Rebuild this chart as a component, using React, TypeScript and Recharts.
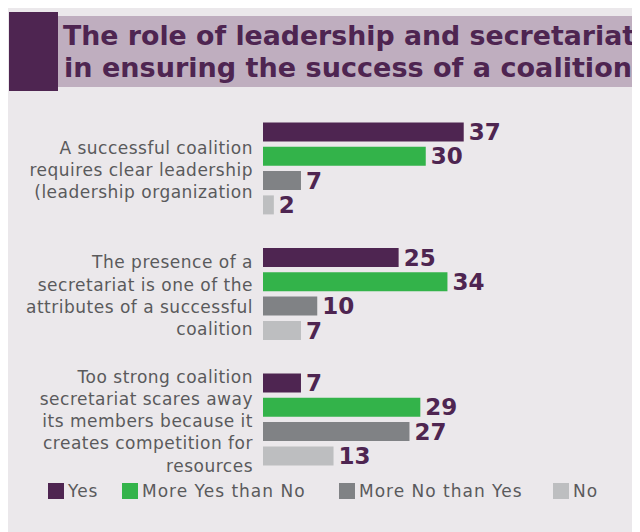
import React from 'react';
import { BarChart, Bar, XAxis, YAxis, LabelList, Legend } from 'recharts';

// Survey statements (line breaks mark where each label wraps)
const categories = [
  'A successful coalition\nrequires clear leadership\n(leadership organization',
  'The presence of a\nsecretariat is one of the\nattributes of a successful\ncoalition',
  'Too strong coalition\nsecretariat scares away\nits members because it\ncreates competition for\nresources',
];

// Answer shares per statement
const yesValues = [37, 25, 7];
const moreYesValues = [30, 34, 29];
const moreNoValues = [7, 10, 27];
const noValues = [2, 7, 13];

const seriesNames = ['Yes', 'More Yes than No', 'More No than Yes', 'No'];
const seriesKeys = ['yes', 'moreYes', 'moreNo', 'no'];

const titleLines = [
  'The role of leadership and secretariat',
  'in ensuring the success of a coalition',
];

const PURPLE = '#4e2551';
const COLORS = [PURPLE, '#33b34a', '#808285', '#bdbec0'];
const PANEL_BG = '#ebe8eb';
const BAND_BG = '#bfaebf';
const TEXT_GREY = '#5a5a5c';
const FONT = '"DejaVu Sans", sans-serif';

const data = categories.map((category, i) => ({
  category,
  yes: yesValues[i],
  moreYes: moreYesValues[i],
  moreNo: moreNoValues[i],
  no: noValues[i],
}));

const CategoryTick = (props: any) => {
  const { x, y, payload } = props;
  const lines = String(payload.value).split('\n');
  const pitch = 22.2;
  const first = y + 8 - ((lines.length - 1) / 2) * pitch;
  return (
    <text
      x={x}
      y={first}
      textAnchor="end"
      fill={TEXT_GREY}
      fontSize={17}
      fontFamily={FONT}
      letterSpacing={0.5}
    >
      {lines.map((line, i) => (
        <tspan key={i} x={x} y={first + i * pitch}>
          {line}
        </tspan>
      ))}
    </text>
  );
};

// Left edge of each legend swatch, in chart pixels
const LEGEND_LEFT = [40, 114, 331, 545];

const LegendContent = (props: any) => {
  const payload = [...(props.payload || [])].sort(
    (a: any, b: any) => seriesNames.indexOf(a.value) - seriesNames.indexOf(b.value)
  );
  return (
    <div style={{ position: 'relative', height: 16, width: 632 }}>
      {payload.map((entry: any, i: number) => (
        <div
          key={entry.value}
          style={{
            position: 'absolute',
            left: LEGEND_LEFT[i],
            top: 0,
            display: 'flex',
            alignItems: 'center',
            height: 16,
            whiteSpace: 'nowrap',
          }}
        >
          <span
            style={{
              display: 'inline-block',
              width: 16,
              height: 16,
              background: entry.color,
              marginRight: 4,
            }}
          />
          <span
            style={{
              fontFamily: FONT,
              fontSize: 17,
              lineHeight: '16px',
              color: TEXT_GREY,
              letterSpacing: 1,
            }}
          >
            {entry.value}
          </span>
        </div>
      ))}
    </div>
  );
};

export default function App() {
  return (
    <div
      style={{
        position: 'relative',
        width: 632,
        height: 526,
        marginTop: -2,
        background: PANEL_BG,
      }}
    >
      <svg
        width={632}
        height={100}
        style={{ position: 'absolute', left: 0, top: 0 }}
      >
        <rect x={1} y={6} width={49} height={79} fill={PURPLE} />
        <rect x={50} y={10} width={582} height={71} fill={BAND_BG} />
        <text
          x={55}
          y={39}
          fontSize={27}
          fontWeight="bold"
          fontFamily={FONT}
          fill={PURPLE}
          textLength={572}
          lengthAdjust="spacingAndGlyphs"
        >
          {titleLines[0]}
        </text>
        <text
          x={56}
          y={71}
          fontSize={27}
          fontWeight="bold"
          fontFamily={FONT}
          fill={PURPLE}
          textLength={568}
          lengthAdjust="spacingAndGlyphs"
        >
          {titleLines[1]}
        </text>
      </svg>
      <div style={{ position: 'absolute', left: 0, top: 0 }}>
        <BarChart
          width={632}
          height={526}
          data={data}
          layout="vertical"
          margin={{ top: 99.5, right: 160, bottom: 50, left: 0 }}
          barSize={19}
          barGap={5.3}
        >
          <XAxis type="number" domain={[0, 40]} hide />
          <YAxis
            type="category"
            dataKey="category"
            width={255}
            axisLine={false}
            tickLine={false}
            tickMargin={4}
            tick={<CategoryTick />}
            interval={0}
          />
          <Legend
            verticalAlign="middle"
            wrapperStyle={{ left: 0, top: 477, width: 632 }}
            content={<LegendContent />}
          />
          {seriesKeys.map((key, i) => (
            <Bar
              key={key}
              dataKey={key}
              name={seriesNames[i]}
              fill={COLORS[i]}
              isAnimationActive={false}
            >
              <LabelList
                dataKey={key}
                position="right"
                offset={5}
                fill={PURPLE}
                fontSize={23}
                fontWeight="bold"
                fontFamily={FONT}
              />
            </Bar>
          ))}
        </BarChart>
      </div>
    </div>
  );
}
